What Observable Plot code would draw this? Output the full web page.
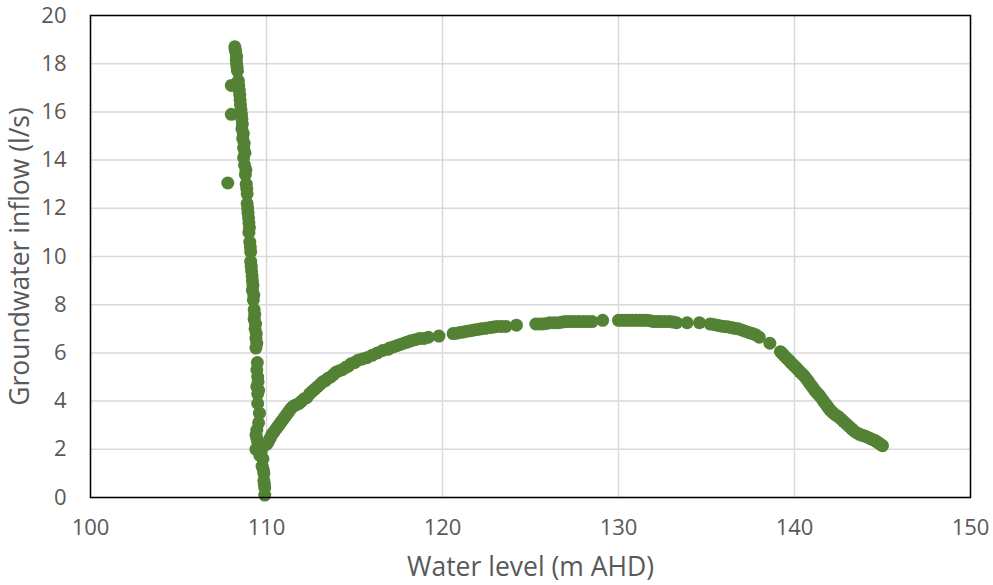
<!DOCTYPE html>
<html>
<head>
<meta charset="utf-8">
<script src="https://cdn.jsdelivr.net/npm/d3@7"></script>
<script src="https://cdn.jsdelivr.net/npm/@observablehq/plot@0.6"></script>
<style>
  html, body { margin: 0; padding: 0; background: #fff; }
  #chart svg { display: block; }
  #chart svg g[aria-label$="tick label"] { font-size: 22px; }
  #chart svg g[aria-label$="tick label"] text { font-size: 22px; }
  #chart svg g[aria-label$="axis label"] { font-size: 26.5px; }
  #chart svg g[aria-label$="axis label"] text { font-size: 26.5px; }
</style>
</head>
<body>
<div id="chart"></div>
<script>
// Water level (m AHD) and groundwater inflow (l/s)
const waterLevel = [
  108.2,108.25,108.3,108.3,108.35,108.0,108.4,108.45,108.5,108.0,108.55,108.6,108.6,108.65,108.7,108.7,108.75,107.8,108.8,108.85,
  108.9,108.9,108.95,109.0,109.0,109.05,109.1,109.1,109.15,109.2,109.2,109.25,109.3,109.3,109.35,109.4,109.4,109.45,109.5,109.45,
  109.5,109.6,109.55,109.45,109.4,109.5,109.4,109.7,109.8,109.75,109.85,109.85,109.9,109.9,
  108.22,108.28,108.33,108.42,108.48,108.52,108.58,108.63,108.68,108.73,108.78,108.83,108.88,108.93,108.98,109.03,109.08,109.13,109.18,109.23,
  109.28,109.33,109.38,109.42,109.45,109.48,109.52,109.55,109.5,109.45,109.6,109.62,109.82,109.88,
  110.0,110.2,110.4,110.6,110.8,111.0,111.2,111.4,111.7,112.0,112.3,112.6,112.9,113.2,113.5,113.8,114.1,114.5,114.8,115.2,
  115.7,116.3,116.6,117.0,117.4,117.8,118.2,118.7,119.2,119.8,120.6,121.0,121.4,121.8,122.2,122.7,123.1,123.6,124.2,125.3,
  125.7,126.1,126.6,127.0,127.5,128.0,128.5,129.1,130.0,130.4,130.8,131.2,131.6,132.0,132.4,132.9,133.3,133.9,134.6,135.2,
  135.6,136.0,136.4,136.8,137.2,137.6,138.0,138.6,139.2,139.4,139.6,139.8,140.0,140.2,140.4,140.6,140.8,141.0,141.2,141.4,
  141.6,141.8,142.0,142.2,142.5,142.8,143.1,143.4,143.7,144.0,144.3,144.6,144.8,145.0,
  110.1,110.3,110.5,110.7,110.9,111.1,111.3,111.55,111.85,112.15,112.45,112.75,113.05,113.35,113.65,113.95,114.3,114.65,115.0,115.45,
  116.0,116.9,117.2,117.6,118.0,118.45,118.95,120.8,121.2,121.6,122.0,122.45,122.9,123.35,125.5,125.9,126.35,126.8,127.25,127.75,
  128.25,130.2,130.6,131.0,131.4,131.8,132.2,132.65,133.1,135.4,135.8,136.2,136.6,137.0,137.4,137.8,139.3,139.5,139.7,139.9,
  140.1,140.3,140.5,140.7,140.9,141.1,141.3,141.5,141.7,141.9,142.1,142.35,142.65,142.95,143.25,143.55,143.85,144.15,144.45,144.7,144.9
];
const inflow = [
  18.7,18.5,18.3,18.0,17.7,17.1,17.3,16.9,16.5,15.9,16.1,15.7,15.3,14.9,14.5,14.1,13.8,13.05,13.4,13.0,
  12.6,12.2,11.8,11.4,11.0,10.6,10.2,9.8,9.4,9.0,8.6,8.2,7.8,7.4,7.0,6.6,6.2,5.3,5.0,4.6,
  4.3,3.5,3.1,2.8,2.6,2.3,2.0,1.9,1.6,1.3,1.0,0.7,0.4,0.1,
  18.6,18.15,17.85,17.1,16.7,16.3,15.9,15.5,15.1,14.7,14.3,13.6,12.8,12.0,11.6,11.2,10.4,9.6,9.2,8.8,
  8.4,7.6,7.2,6.8,6.4,5.6,4.8,4.45,3.9,2.45,2.15,1.75,1.15,0.55,
  2.2,2.45,2.7,2.9,3.1,3.3,3.5,3.7,3.85,4.0,4.15,4.4,4.6,4.8,4.95,5.1,5.25,5.4,5.55,5.7,
  5.8,6.0,6.1,6.2,6.3,6.4,6.5,6.6,6.65,6.7,6.8,6.85,6.9,6.95,7.0,7.05,7.1,7.1,7.15,7.2,
  7.2,7.25,7.25,7.3,7.3,7.3,7.3,7.35,7.35,7.35,7.35,7.35,7.35,7.3,7.3,7.3,7.25,7.25,7.25,7.2,
  7.15,7.1,7.05,7.0,6.9,6.8,6.65,6.4,6.05,5.9,5.75,5.6,5.45,5.3,5.15,5.0,4.8,4.6,4.4,4.25,
  4.05,3.85,3.65,3.5,3.35,3.15,2.95,2.75,2.62,2.55,2.45,2.35,2.25,2.15,
  2.3,2.6,2.8,3.0,3.2,3.4,3.6,3.8,3.9,4.1,4.3,4.5,4.7,4.85,5.0,5.2,5.3,5.45,5.6,5.75,
  5.9,6.15,6.25,6.35,6.45,6.55,6.6,6.82,6.87,6.92,6.97,7.02,7.07,7.1,7.2,7.22,7.25,7.28,7.3,7.3,
  7.3,7.35,7.35,7.35,7.35,7.33,7.3,7.3,7.28,7.18,7.12,7.08,7.02,6.95,6.85,6.75,5.98,5.82,5.68,5.52,
  5.38,5.22,5.08,4.9,4.7,4.5,4.32,4.15,3.95,3.75,3.58,3.42,3.25,3.05,2.85,2.68,2.58,2.5,2.4,2.3,2.2
];
const xTicks = [100, 110, 120, 130, 140, 150];
const yTicks = [0, 2, 4, 6, 8, 10, 12, 14, 16, 18, 20];

const data = waterLevel.map((w, i) => ({w, q: inflow[i]}));

const chart = Plot.plot({
  width: 993,
  height: 585,
  marginLeft: 90,
  marginRight: 23,
  marginTop: 15,
  marginBottom: 88,
  style: {fontFamily: "'Open Sans', sans-serif", fontSize: "22px", color: "#595959", background: "#fff"},
  x: {domain: [100, 150]},
  y: {domain: [0, 20]},
  marks: [
    Plot.gridX(xTicks, {stroke: "#d9d9d9", strokeOpacity: 1, strokeWidth: 1.5}),
    Plot.gridY(yTicks, {stroke: "#d9d9d9", strokeOpacity: 1, strokeWidth: 1.5}),
    Plot.axisX({ticks: xTicks, tickSize: 0, tickPadding: 22, label: "Water level (m AHD)", labelAnchor: "center", labelArrow: "none", labelOffset: 78}),
    Plot.axisY({ticks: yTicks, tickSize: 0, tickPadding: 24, label: "Groundwater inflow (l/s)", labelAnchor: "center", labelArrow: "none", labelOffset: 80}),
    Plot.dot(data, {x: "w", y: "q", r: 6.5, fill: "#548235", stroke: "none"}),
    Plot.frame({stroke: "#000", strokeWidth: 1.5})
  ]
});
document.getElementById("chart").appendChild(chart);
</script>
</body>
</html>
